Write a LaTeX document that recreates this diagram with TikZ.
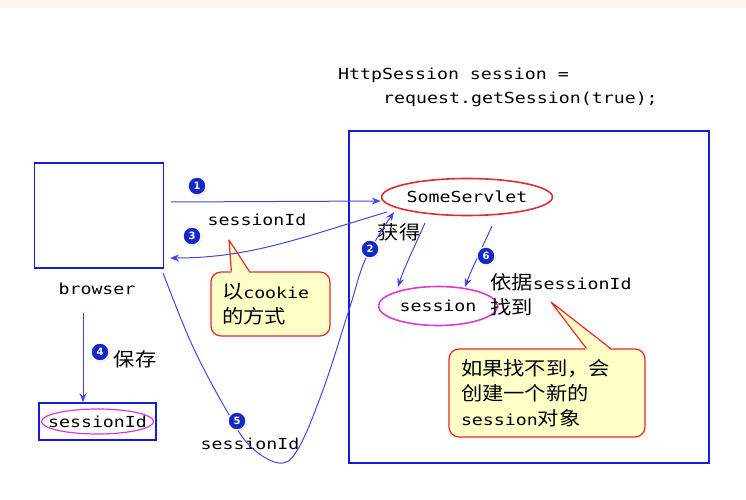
\documentclass[tikz,border=0pt]{standalone}
\usepackage{fontspec}
\setmonofont{DejaVu Sans Mono}[FakeStretch=1.2]
\setsansfont{DejaVu Sans}
\newfontfamily\cjkfont{Noto Sans CJK SC}[Scale=1.25,FakeStretch=1.12]
\usetikzlibrary{shapes.geometric,arrows.meta,shadows,calc}
\newcommand\zh[1]{{\cjkfont #1}}
\newcommand\monofnt{\ttfamily\fontsize{15.2}{25}\selectfont}
\definecolor{boxblue}{RGB}{25,25,220}
\definecolor{arrblue}{RGB}{70,70,225}
\definecolor{numblue}{RGB}{20,40,200}
\definecolor{ellred}{RGB}{225,45,45}
\definecolor{ellmag}{RGB}{215,60,215}
\definecolor{callfill}{RGB}{255,255,200}
\definecolor{callred}{RGB}{235,40,40}
\definecolor{strip}{RGB}{249,246,238}
\begin{document}
\begin{tikzpicture}[x=1pt,y=-1pt,
  txt/.style={font=\monofnt, inner sep=0pt, text=black},
  bluebox/.style={draw=boxblue, line width=1.6pt},
  arr/.style={draw=arrblue, line width=1pt, -{Stealth[length=9pt,width=7pt]}},
  num/.style={circle, fill=numblue, draw=white, line width=1.3pt, inner sep=0pt,
    minimum size=18pt, text=white, font=\sffamily\bfseries\fontsize{10}{10}\selectfont,
    drop shadow={opacity=0.35, shadow xshift=0.8pt, shadow yshift=-0.8pt}},
  callout/.style={draw=callred, fill=callfill, line width=1.2pt, rounded corners=10pt,
    align=left, font=\monofnt, text=black}
]
\useasboundingbox (0,0) rectangle (746,500);
\fill[white] (0,0) rectangle (746,500);
\fill[strip] (0,0) rectangle (746,8);

% code
\node[txt, anchor=base west] (code1) at (338,80) {HttpSession session =};
\node[txt, anchor=base west] (code2) at (383,103) {request.getSession(true);};

% boxes
\node[bluebox, minimum width=129pt, minimum height=105pt, inner sep=0pt] (browser) at (99,215.5) {};
\node[txt] (blabel) at (97,289) {browser};
\node[bluebox, minimum width=360pt, minimum height=332pt, inner sep=0pt] (server) at (529,297) {};

% ellipses
\node[ellipse, draw=ellred, line width=1.6pt, fill=white, minimum width=158pt, minimum height=37pt, inner sep=0pt, txt] (ss) at (467,197) {SomeServlet};
\node[ellipse, draw=ellmag, line width=1.6pt, fill=white, minimum width=119pt, minimum height=39pt, inner sep=0pt, txt] (sess) at (438,306) {session};

% stored sessionId
\node[bluebox, minimum width=117pt, minimum height=37pt, inner sep=0pt] (sidbox) at (97.5,421.5) {};
\draw[ellmag, line width=1.2pt] (sidbox.center) ellipse [x radius=56pt, y radius=12.5pt];
\node[txt] (sid) at (sidbox.center) {sessionId};

% labels
\node[txt] (lab1) at (257,220) {sessionId};
\node[txt] (lab5) at (250,444) {sessionId};
\node[txt] (huode) at (399,232) {\zh{获得}};
\node[txt, anchor=west] (yiju) at (490,282) {\zh{依据}sessionId};
\node[txt, anchor=west] (zhaodao) at (490,307) {\zh{找到}};
\node[txt] (baocun) at (135,359) {\zh{保存}};

% callout 1
\node[callout, text width=97pt, inner xsep=11pt, minimum height=64pt] (c1) at (270.5,304) {\zh{以}cookie\\\zh{的方式}};
\coordinate (t1) at (229,240);
\fill[callfill] ($(c1.north west)+(21,1.5)$) -- (t1) -- ($(c1.north west)+(39,1.5)$) -- cycle;
\draw[callred, line width=1.2pt, line join=round] ($(c1.north west)+(21,0)$) -- (t1) -- ($(c1.north west)+(39,0)$);

% callout 2
\node[callout, text width=172pt, inner xsep=12pt, minimum height=88pt] (c2) at (547,393) {\zh{如果找不到，会}\\\zh{创建一个新的}\\session\zh{对象}};
\coordinate (t2) at (551,302);
\fill[callfill] ($(c2.north west)+(138,1.5)$) -- (t2) -- ($(c2.north west)+(162,1.5)$) -- cycle;
\draw[callred, line width=1.2pt, line join=round] ($(c2.north west)+(138,0)$) -- (t2) -- ($(c2.north west)+(162,0)$);

% connectors
\coordinate (a1s) at (171,202);
\draw[arr] (a1s) -- (ss.west |- 0,201);
\coordinate (a3s) at (387,212);
\coordinate (a3e) at (170,258);
\draw[arr] (a3s) .. controls (300,238) and (250,258) .. (a3e);
\coordinate (a5s) at (163,273);
\coordinate (a2e) at (394,212);
\draw[arr] plot[smooth, tension=0.6] coordinates {(a5s) (193,347) (228,413) (250,446) (279,463) (298,449) (323,390) (349,310) (366,258) (a2e)};
\coordinate (a4s) at (83,313);
\draw[arr] (a4s) -- (sidbox.north -| a4s);
\coordinate (a6s) at (425,223);
\draw[arr] (a6s) .. controls (414,248) and (404,268) .. (398,287);
\coordinate (a7s) at (492,226);
\draw[arr] (a7s) .. controls (482,248) and (472,268) .. (465,287);

% numbers
\node[num] (n1) at (197,186) {1};
\node[num] (n3) at (192,236) {3};
\node[num] (n2) at (370,249) {2};
\node[num] (n4) at (100,352) {4};
\node[num] (n5) at (237,421) {5};
\node[num] (n6) at (486,256) {6};
\end{tikzpicture}
\end{document}
